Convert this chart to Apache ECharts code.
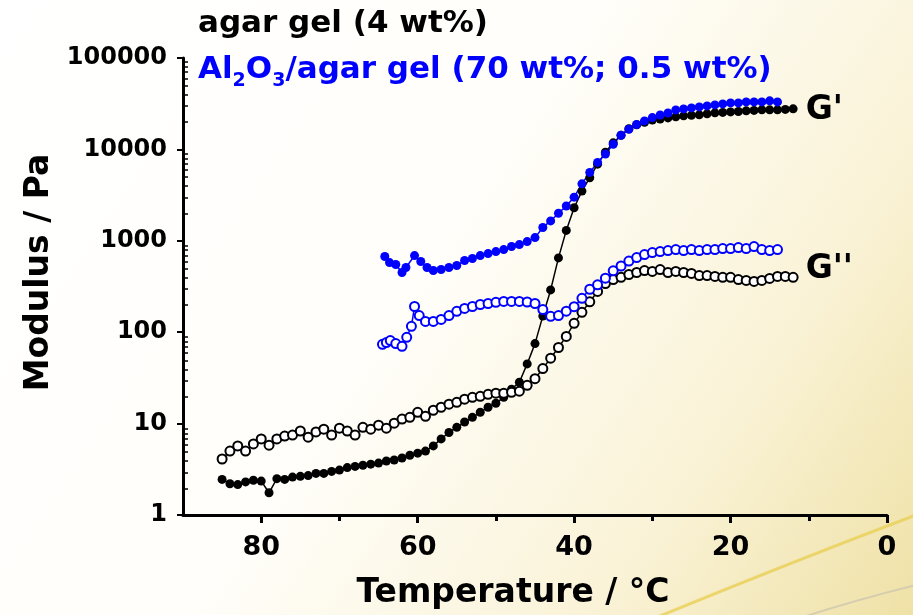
<!DOCTYPE html>
<html>
<head>
<meta charset="utf-8">
<title>Agar gel modulus vs temperature</title>
<script src="https://cdn.jsdelivr.net/npm/echarts@6/dist/echarts.min.js"></script>
<style>
  html, body { margin: 0; padding: 0; }
  #chart { width: 913px; height: 615px; }
</style>
</head>
<body>
<div id="chart"></div>
<script>
// Temperature sweep (cooling) of agar gel, plain and with alumina
const agarTemp = [85,84,83,82,81,80,79,78,77,76,75,74,73,72,71,70,69,68,67,66,65,64,63,62,61,60,
  59,58,57,56,55,54,53,52,51,50,49,48,47,46,45,44,43,42,41,40,39,38,37,36,35,34,33,32,31,30,
  29,28,27,26,25,24,23,22,21,20,19,18,17,16,15,14,13,12];
// storage modulus G' (Pa)
const agarStorage = [2.45,2.2,2.15,2.3,2.4,2.35,1.75,2.5,2.45,2.6,2.65,2.7,2.85,2.85,3.0,3.1,3.3,3.4,3.5,3.6,3.7,3.9,4.0,4.2,4.5,4.75,
  5.0,5.7,6.8,8.0,9.1,10.4,11.7,13.3,15.1,16.7,19.4,23.8,28.3,45,75,150,290,650,1300,2300,3500,4900,6900,9300,11800,14300,16800,18600,19800,21000,
  21500,22100,22700,23300,23600,23900,24500,25100,25400,25700,26000,26400,26700,27100,27100,27100,27400,27800];
// loss modulus G'' (Pa)
const agarLoss = [4.1,5.0,5.7,5.0,6.0,6.8,5.8,6.8,7.3,7.5,8.3,7.1,8.1,8.7,7.5,8.9,8.3,7.5,9.1,8.7,9.6,8.9,10.1,11.2,11.7,13.3,
  12.0,14.0,15.1,16.3,17.1,18.5,19.4,19.9,20.9,21.5,21.5,22,22.6,26.2,31,40,52,68,90,125,165,215,279,340,377,398,428,450,473,462,
  485,450,462,450,439,417,417,407,398,398,377,368,359,368,387,407,407,398];

const compositeStorageTemp = [64.2,63.6,62.8,62,61.5,60.4,59.6,58.8,58,57,56,55,54,53,52,51,50,49,48,47,46,45,44,43,42,41,40,
  39,38,37,36,35,34,33,32,31,30,29,28,27,26,25,24,23,22,21,20,19,18,17,16,15,14];
const compositeStorage = [673,578,550,450,510,689,593,510,473,485,510,536,608,640,689,725,762,801,865,909,980,1084,1400,1650,2000,2400,3000,
  4200,5600,7200,8900,11400,14300,16600,18700,20500,22300,23800,25000,27060,27740,28440,29180,29930,30700,31470,32280,32280,33110,33110,33110,33960,33110];

const compositeLossTemp = [64.5,64,63.5,62.8,62,61.4,60.8,60.4,59.8,59,58,57,56,55,54,53,52,51,50,49,48,47,46,45,44,43,42,41,40,
  39,38,37,36,35,34,33,32,31,30,29,28,27,26,25,24,23,22,21,20,19,18,17,16,15,14];
const compositeLoss = [73.6,77,81,75,70,88,116,191,152,131,131,138,152,169,182,191,201,206,212,217,217,217,214,206,177,149,152,170,190,
  235,295,330,390,470,530,600,656,707,743,762,782,801,782,801,782,801,801,822,822,843,822,865,801,782,801];

const tempTicks = [0, 20, 40, 60, 80];
const tempMinorTicks = [10, 30, 50, 70];
const modulusMin = 1;
const modulusMax = 100000;

const agarName = 'agar gel (4 wt%)';
const compositeName = 'Al2O3/agar gel (70 wt%; 0.5 wt%)';

const FONT = '"DejaVu Sans", Verdana, sans-serif';
const BLUE = '#0000ff';

// inward log minor ticks 2..9 in every decade
const logMinor = [];
for (let d = modulusMin; d < modulusMax; d *= 10) {
  for (let k = 2; k <= 9; k++) logMinor.push(k * d);
}

const pairs = (xs, ys) => xs.map((x, i) => [x, ys[i]]);

function curveLabel(text, lastX, lastY, dy) {
  return {
    symbol: 'rect',
    symbolSize: 1,
    itemStyle: { color: 'rgba(0,0,0,0)' },
    label: {
      show: true, position: 'right', distance: 12, offset: [0, dy],
      formatter: text, color: '#000', fontFamily: FONT, fontWeight: 'bold', fontSize: 33
    },
    data: [{ coord: [lastX, lastY] }]
  };
}

const plotRect = { left: 183, right: 26, top: 58, bottom: 99 };

const chart = echarts.init(document.getElementById('chart'), null, { renderer: 'canvas' });

chart.setOption({
  animation: false,
  backgroundColor: {
    type: 'linear', x: 0, y: 0, x2: 1, y2: 1,
    colorStops: [
      { offset: 0, color: '#ffffff' },
      { offset: 0.45, color: '#fffefa' },
      { offset: 0.75, color: '#faf3d8' },
      { offset: 1, color: '#efe1a6' }
    ]
  },
  graphic: [
    {
      type: 'bezierCurve', z: -10, silent: true,
      shape: { x1: 655, y1: 618, cpx1: 760, cpy1: 575, cpx2: 850, cpy2: 540, x2: 916, y2: 515 },
      style: { stroke: '#e9cf55', lineWidth: 3, fill: null, opacity: 0.8 }
    },
    {
      type: 'bezierCurve', z: -10, silent: true,
      shape: { x1: 800, y1: 618, cpx1: 840, cpy1: 605, cpx2: 880, cpy2: 594, x2: 916, y2: 585 },
      style: { stroke: '#c9c3ae', lineWidth: 2, fill: null, opacity: 0.7 }
    }
  ],
  legend: {
    orient: 'vertical',
    left: 188, top: -2,
    itemWidth: 0, itemHeight: 0, itemGap: 4,
    icon: 'none',
    selectedMode: false,
    data: [agarName, compositeName],
    formatter: function (name) {
      if (name === compositeName) {
        return '{b|Al}{bs|2}{b|O}{bs|3}{b|/agar gel (70 wt%; 0.5 wt%)}';
      }
      return '{k|' + name + '}';
    },
    textStyle: {
      fontFamily: FONT, fontWeight: 'bold', fontSize: 31, lineHeight: 42,
      rich: {
        k: { color: '#000', fontFamily: FONT, fontWeight: 'bold', fontSize: 31, lineHeight: 42 },
        b: { color: BLUE, fontFamily: FONT, fontWeight: 'bold', fontSize: 31, lineHeight: 42 },
        bs: { color: BLUE, fontFamily: FONT, fontWeight: 'bold', fontSize: 19, lineHeight: 42, verticalAlign: 'bottom', padding: [14, 0, 0, 0] }
      }
    }
  },
  grid: [
    Object.assign({}, plotRect),
    Object.assign({}, plotRect)
  ],
  xAxis: [
    {
      gridIndex: 0,
      type: 'value', min: 0, max: 90, interval: 20, inverse: true,
      name: 'Temperature / °C', nameLocation: 'middle', nameGap: 62,
      nameTextStyle: { fontFamily: FONT, fontWeight: 'bold', fontSize: 33, color: '#000', padding: [0, 44, 0, 0] },
      axisLine: { onZero: false, lineStyle: { color: '#000', width: 3 } },
      axisTick: { show: true, length: 8, customValues: tempTicks, lineStyle: { color: '#000', width: 3 } },
      axisLabel: { customValues: tempTicks, fontFamily: FONT, fontWeight: 'bold', fontSize: 27, color: '#000', margin: 19 },
      splitLine: { show: false }
    },
    {
      gridIndex: 1,
      type: 'value', min: 0, max: 90, interval: 10, inverse: true, position: 'bottom',
      axisLine: { show: false, onZero: false },
      axisTick: { show: true, length: 5, customValues: tempMinorTicks, lineStyle: { color: '#000', width: 3 } },
      axisLabel: { show: false },
      splitLine: { show: false }
    }
  ],
  yAxis: [
    {
      gridIndex: 0,
      type: 'log', logBase: 10, min: modulusMin, max: modulusMax,
      name: 'Modulus / Pa', nameLocation: 'middle', nameGap: 110,
      nameTextStyle: { fontFamily: FONT, fontWeight: 'bold', fontSize: 33, color: '#000', padding: [0, 0, 0, 28] },
      axisLine: { onZero: false, lineStyle: { color: '#000', width: 3 } },
      axisTick: { show: true, length: 6, lineStyle: { color: '#000', width: 2 } },
      axisLabel: {
        fontFamily: FONT, fontWeight: 'bold', fontSize: 24, color: '#000', margin: 16,
        formatter: v => String(Math.round(v))
      },
      splitLine: { show: false }
    },
    {
      gridIndex: 1,
      type: 'log', logBase: 10, min: modulusMin, max: modulusMax, position: 'left',
      axisLine: { show: false, onZero: false },
      axisTick: { show: true, inside: true, length: 5, customValues: logMinor, lineStyle: { color: '#000', width: 1.5 } },
      axisLabel: { show: false },
      splitLine: { show: false }
    }
  ],
  series: [
    {
      name: agarName, type: 'line', xAxisIndex: 0, yAxisIndex: 0,
      data: pairs(agarTemp, agarStorage),
      symbol: 'circle', symbolSize: 9, showSymbol: true, showAllSymbol: true,
      itemStyle: { color: '#000' },
      lineStyle: { color: '#000', width: 1.5 },
      markPoint: curveLabel("G'", agarTemp[agarTemp.length - 1], agarStorage[agarStorage.length - 1], 2)
    },
    {
      name: agarName, type: 'line', xAxisIndex: 0, yAxisIndex: 0,
      data: pairs(agarTemp, agarLoss),
      symbol: 'circle', symbolSize: 9, showSymbol: true, showAllSymbol: true,
      itemStyle: { color: '#fff', borderColor: '#000', borderWidth: 2 },
      lineStyle: { color: '#000', width: 1.5 },
      markPoint: curveLabel("G''", agarTemp[agarTemp.length - 1], agarLoss[agarLoss.length - 1], -8)
    },
    {
      name: compositeName, type: 'line', xAxisIndex: 0, yAxisIndex: 0,
      data: pairs(compositeStorageTemp, compositeStorage),
      symbol: 'circle', symbolSize: 9, showSymbol: true, showAllSymbol: true,
      itemStyle: { color: BLUE },
      lineStyle: { color: BLUE, width: 1.5 }
    },
    {
      name: compositeName, type: 'line', xAxisIndex: 0, yAxisIndex: 0,
      data: pairs(compositeLossTemp, compositeLoss),
      symbol: 'circle', symbolSize: 9, showSymbol: true, showAllSymbol: true,
      itemStyle: { color: '#fff', borderColor: BLUE, borderWidth: 2 },
      lineStyle: { color: BLUE, width: 1.5 }
    }
  ]
});
</script>
</body>
</html>
